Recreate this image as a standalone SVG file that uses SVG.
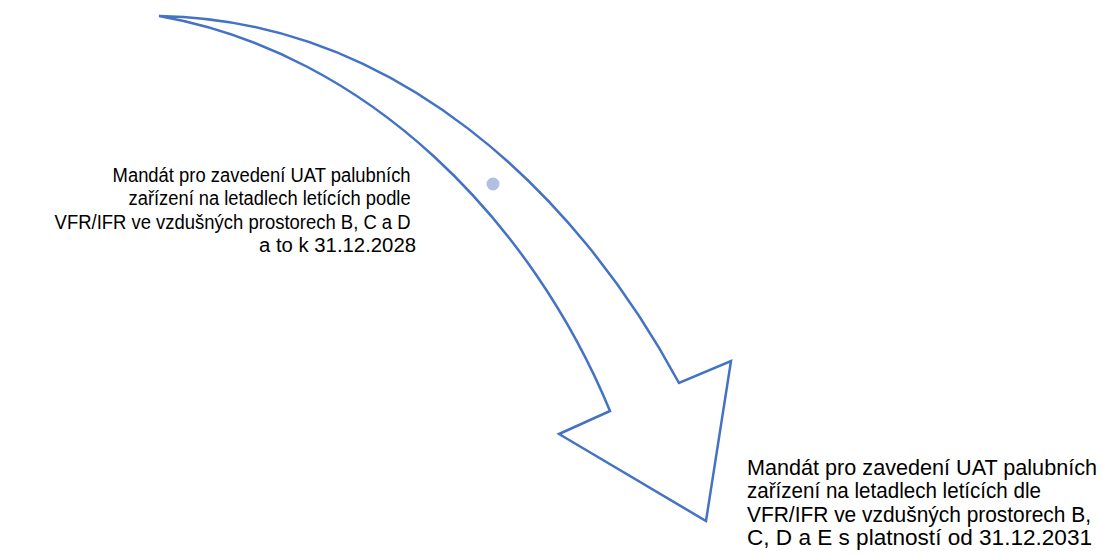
<svg xmlns="http://www.w3.org/2000/svg" width="1102" height="554" viewBox="0 0 1102 554">
  <style>
    .lbl { font-family: "Liberation Sans", Arial, sans-serif; fill: #000; }
    .small { font-size: 19.5px; }
    .big { font-size: 21.5px; }
    .arrow { fill: #fff; stroke: #4472C4; stroke-width: 2.5; stroke-linejoin: miter; }
  </style>
  <rect width="1102" height="554" fill="#fff"/>
  <g id="connectors">
    <g id="curved-arrow">
      <path class="arrow" d="M 159 16 C 394 20 575 190 679 383 L 731 361 L 706 521 L 559 434 L 610 411 C 532 222 369 53 159 16 Z"/>
      <circle cx="493" cy="184" r="6.5" fill="#B0BFE2"/>
    </g>
  </g>
  <g id="label-2028">
    <text class="lbl small" text-anchor="end">
      <tspan x="416" y="181.5" textLength="298" lengthAdjust="spacingAndGlyphs">Mandát pro zavedení UAT palubních</tspan>
      <tspan x="416" y="205" textLength="282" lengthAdjust="spacingAndGlyphs">zařízení na letadlech letících podle</tspan>
      <tspan x="416" y="228.5" textLength="356" lengthAdjust="spacingAndGlyphs">VFR/IFR ve vzdušných prostorech B, C a D</tspan>
      <tspan x="416" y="252" textLength="157" lengthAdjust="spacingAndGlyphs">a to k 31.12.2028</tspan>
    </text>
  </g>
  <g id="label-2031">
    <text class="lbl big">
      <tspan x="747" y="475" textLength="350" lengthAdjust="spacingAndGlyphs">Mandát pro zavedení UAT palubních</tspan>
      <tspan x="747" y="498.3" textLength="294" lengthAdjust="spacingAndGlyphs">zařízení na letadlech letících dle</tspan>
      <tspan x="747" y="521.7" textLength="344" lengthAdjust="spacingAndGlyphs">VFR/IFR ve vzdušných prostorech B,</tspan>
      <tspan x="747" y="545" textLength="345" lengthAdjust="spacingAndGlyphs">C, D a E s platností od 31.12.2031</tspan>
    </text>
  </g>
</svg>
